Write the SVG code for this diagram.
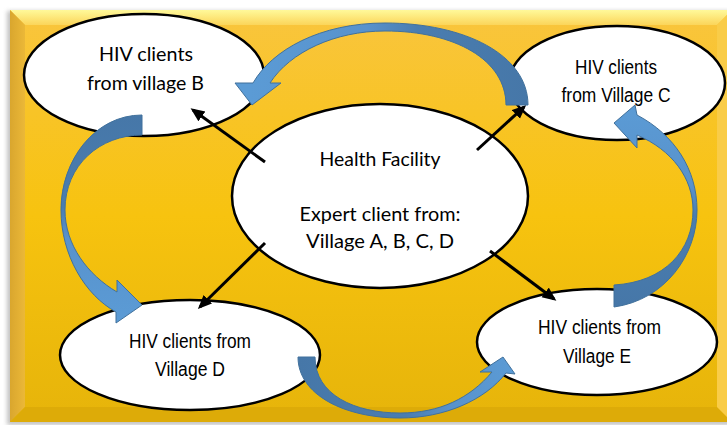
<svg xmlns="http://www.w3.org/2000/svg" width="727" height="425" viewBox="0 0 727 425">
<defs>
<style>
.node{fill:#fff;stroke:#000;stroke-width:2.5}
.gs{font-family:Lato,"Open Sans",sans-serif;font-size:19px;fill:#000;text-anchor:middle}
.ar{font-family:"Liberation Sans",Arial,sans-serif;font-size:20px;fill:#000;text-anchor:middle}
.conn{stroke:#000;stroke-width:3;fill:none;marker-end:url(#ah)}
.blue{stroke:#41719C;stroke-width:1}
</style>
<marker id="ah" markerUnits="userSpaceOnUse" markerWidth="15" markerHeight="13" refX="11" refY="6" orient="auto">
<path d="M0,0 L14,6 L0,12 Z" fill="#000"/>
</marker>
<linearGradient id="face" x1="0" y1="0" x2="0" y2="1">
<stop offset="0" stop-color="#F9C53E"/>
<stop offset="0.5" stop-color="#F7C30F"/>
<stop offset="1" stop-color="#E6B40A"/>
</linearGradient>
<linearGradient id="topb" x1="0" y1="0" x2="0" y2="1">
<stop offset="0" stop-color="#FFF99A"/>
<stop offset="1" stop-color="#FBD55A"/>
</linearGradient>
<linearGradient id="leftb" x1="0" y1="0" x2="1" y2="0">
<stop offset="0" stop-color="#D9A62E"/>
<stop offset="1" stop-color="#EBB838"/>
</linearGradient>
<linearGradient id="g1" gradientUnits="userSpaceOnUse" x1="250" y1="0" x2="528" y2="0">
<stop offset="0" stop-color="#5B9BD5"/>
<stop offset="0.42" stop-color="#5892CC"/>
<stop offset="0.6" stop-color="#4A7DB0"/>
<stop offset="1" stop-color="#4677A8"/>
</linearGradient>
<linearGradient id="g2" gradientUnits="userSpaceOnUse" x1="0" y1="115" x2="0" y2="320">
<stop offset="0" stop-color="#4677A8"/>
<stop offset="0.45" stop-color="#4A7DB0"/>
<stop offset="0.6" stop-color="#5892CC"/>
<stop offset="1" stop-color="#5B9BD5"/>
</linearGradient>
<linearGradient id="g3" gradientUnits="userSpaceOnUse" x1="298" y1="0" x2="515" y2="0">
<stop offset="0" stop-color="#4677A8"/>
<stop offset="0.5" stop-color="#4A7DB0"/>
<stop offset="0.7" stop-color="#5892CC"/>
<stop offset="1" stop-color="#5B9BD5"/>
</linearGradient>
<linearGradient id="g4" gradientUnits="userSpaceOnUse" x1="0" y1="307" x2="0" y2="105">
<stop offset="0" stop-color="#4677A8"/>
<stop offset="0.45" stop-color="#4A7DB0"/>
<stop offset="0.6" stop-color="#5892CC"/>
<stop offset="1" stop-color="#5B9BD5"/>
</linearGradient>
<filter id="sh" x="-5%" y="-5%" width="110%" height="110%">
<feGaussianBlur stdDeviation="2"/>
</filter>
</defs>
<rect width="727" height="425" fill="#fff"/>
<g id="panel">
<rect x="7" y="11" width="730" height="414" fill="#9a9a9a" opacity="0.6" filter="url(#sh)"/>
<rect x="10" y="10" width="722" height="412" fill="url(#face)"/>
<polygon points="10,10 732,10 717,25 25,25" fill="url(#topb)"/>
<polygon points="10,10 25,25 25,407 10,422" fill="url(#leftb)"/>
<polygon points="10,422 25,407 717,407 732,422" fill="#DDAB08"/>
<polygon points="732,10 717,25 717,407 732,422" fill="#F9CC48"/>
</g>
<g id="node-b">
<ellipse class="node" cx="144" cy="75" rx="120" ry="61"/>
<text class="gs" x="146" y="61" textLength="94" lengthAdjust="spacingAndGlyphs">HIV clients</text>
<text class="gs" x="145.5" y="90" textLength="117" lengthAdjust="spacingAndGlyphs">from village B</text>
</g>
<g id="node-c">
<ellipse class="node" cx="617" cy="83" rx="108" ry="57"/>
<text class="ar" x="616" y="74" textLength="82" lengthAdjust="spacingAndGlyphs">HIV clients</text>
<text class="ar" x="616" y="102" textLength="109" lengthAdjust="spacingAndGlyphs">from Village C</text>
</g>
<g id="node-center">
<ellipse class="node" cx="380" cy="196" rx="148" ry="92"/>
<text class="gs" x="380" y="166" font-size="20" textLength="121" lengthAdjust="spacingAndGlyphs">Health Facility</text>
<text class="gs" x="380" y="221" font-size="20" textLength="161" lengthAdjust="spacingAndGlyphs">Expert client from:</text>
<text class="gs" x="380" y="248" font-size="20" textLength="148" lengthAdjust="spacingAndGlyphs">Village A, B, C, D</text>
</g>
<g id="node-d">
<ellipse class="node" cx="190" cy="355" rx="130" ry="55"/>
<text class="ar" x="190" y="348" font-size="21" textLength="122" lengthAdjust="spacingAndGlyphs">HIV clients from</text>
<text class="ar" x="190" y="376" font-size="21" textLength="70" lengthAdjust="spacingAndGlyphs">Village D</text>
</g>
<g id="node-e">
<ellipse class="node" cx="597" cy="342" rx="120" ry="53"/>
<text class="ar" x="599.5" y="334" textLength="123" lengthAdjust="spacingAndGlyphs">HIV clients from</text>
<text class="ar" x="597" y="363" textLength="68" lengthAdjust="spacingAndGlyphs">Village E</text>
</g>
<g id="connectors">
<line class="conn" x1="265" y1="162" x2="193" y2="110"/>
<line class="conn" x1="477" y1="150" x2="524" y2="107"/>
<line class="conn" x1="265" y1="243" x2="200" y2="307"/>
<line class="conn" x1="490" y1="251" x2="554" y2="299"/>
<path class="blue" fill="url(#g1)" d="M528,105 C528,55 465,23 385,23 C320,23 272,50 253,83 L235,83 L252,105 L281,83 L270,83 C290,52 335,31 385,31 C455,31 506,60 506,105 Z"/>
<path class="blue" fill="url(#g2)" d="M142,115 C95,115 61,160 61,210 C61,255 85,295 116,312 L116,323 L142,305 L117,280 L117,292 C88,275 65,245 65,210 C65,165 100,135 142,135 Z"/>
<path class="blue" fill="url(#g3)" d="M298,357 C298,395 345,418 400,418 C445,418 485,400 506,373 L515,374 L503,357 L480,372 L492,372 C470,398 440,413 400,413 C355,413 315,395 315,357 Z"/>
<path class="blue" fill="url(#g4)" d="M614,307 C665,300 697,255 697,210 C697,170 675,135 637,115 L635,105 L614,123 L637,148 L637,135 C672,150 693,178 693,210 C693,250 665,282 614,285 Z"/>
</g>
</svg>
